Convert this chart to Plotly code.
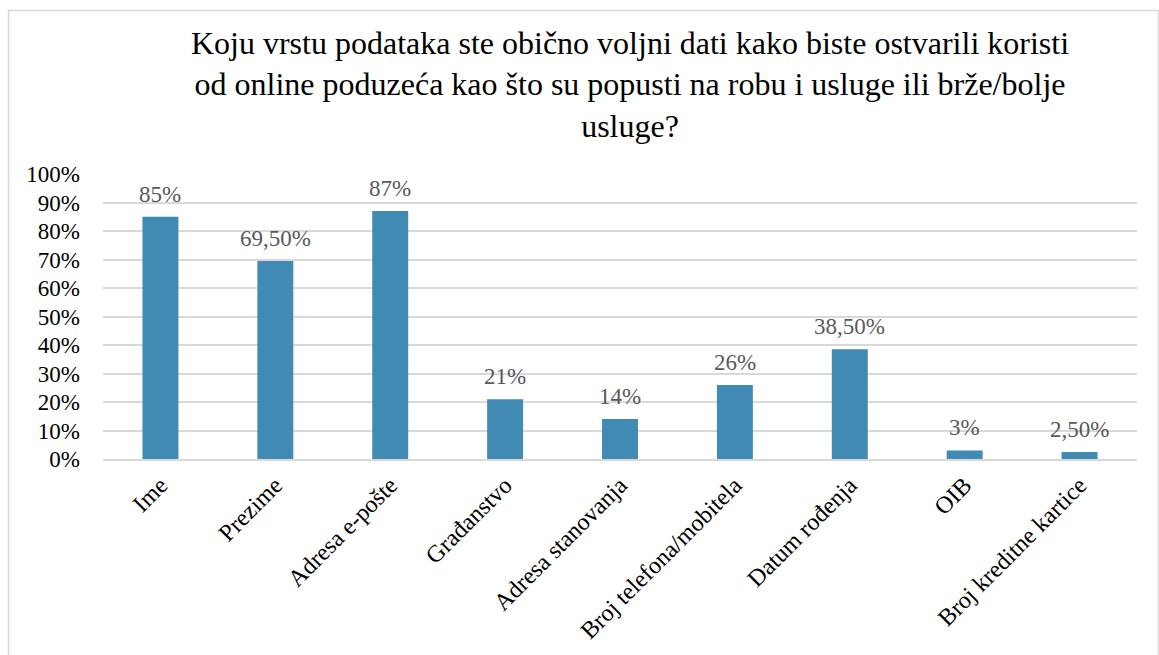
import plotly.graph_objects as go

categories = ["Ime", "Prezime", "Adresa e-pošte", "Građanstvo", "Adresa stanovanja",
              "Broj telefona/mobitela", "Datum rođenja", "OIB", "Broj kreditne kartice"]
values = [85, 69.5, 87, 21, 14, 26, 38.5, 3, 2.5]
y_ticks = list(range(0, 101, 10))
title_text = ("Koju vrstu podataka ste obično voljni dati kako biste ostvarili koristi<br>"
              "od online poduzeća kao što su popusti na robu i usluge ili brže/bolje<br>usluge?")


def fmt(v):
    if float(v).is_integer():
        return f"{int(v)}%"
    return f"{v:.2f}".replace(".", ",") + "%"


W, H = 1159, 655
L, R, T, B = 103, 22, 174, 196
pw, ph = W - L - R, H - T - B
FONT = "Liberation Serif"

fig = go.Figure()
fig.add_trace(go.Bar(x=categories, y=values, marker_color="#418AB4",
                     marker_line_width=0, hoverinfo="x+y"))

for c, v in zip(categories, values):
    fig.add_annotation(x=c, y=v, text=fmt(v), showarrow=False, yanchor="bottom",
                       yshift=8, font=dict(family=FONT, size=23, color="#595959"))


def px_x(p):
    return (p - L) / pw


def px_y(p):
    return (H - B - p) / ph


fig.add_shape(type="rect", xref="paper", yref="paper",
              x0=px_x(8.5), x1=px_x(1158.5), y0=px_y(670), y1=px_y(10.5),
              line=dict(color="#D9D9D9", width=1.5), layer="below")

fig.update_layout(
    width=W, height=H,
    margin=dict(l=L, r=R, t=T, b=B, autoexpand=False),
    paper_bgcolor="white", plot_bgcolor="white",
    bargap=0.687,
    showlegend=False,
    title=dict(text=title_text, x=(630 - L) / pw, xref="paper", xanchor="center",
               y=0.918, yref="container", yanchor="top",
               font=dict(family=FONT, size=32, color="black")),
    font=dict(family=FONT, size=23, color="black"),
)
fig.update_xaxes(tickangle=-45, showline=True, linecolor="#D9D9D9", linewidth=1.5,
                 automargin=False,
                 ticks="", ticklabelstandoff=1, tickfont=dict(family=FONT, size=24, color="black"))
fig.update_yaxes(range=[0, 100], tickvals=y_ticks, ticktext=[f"{t}%" for t in y_ticks],
                 showgrid=True, gridcolor="#D9D9D9", gridwidth=1.5, zeroline=False,
                 automargin=False,
                 ticks="", ticklabelstandoff=22, tickfont=dict(family=FONT, size=23, color="black"))

fig.write_html("out.html")
